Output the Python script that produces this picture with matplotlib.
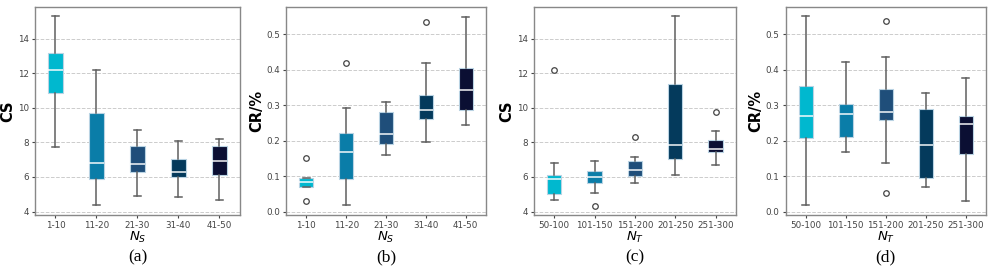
import matplotlib
matplotlib.use("Agg")
import matplotlib.pyplot as plt

# box colours, light to dark
colors = ["#00b8cf", "#0a7da8", "#1f4e7a", "#043a5c", "#0b0f33"]

ns_labels = ["1-10", "11-20", "21-30", "31-40", "41-50"]
nt_labels = ["50-100", "101-150", "151-200", "201-250", "251-300"]

# each box: whislo, q1, med, q3, whishi, fliers
cs_ns_whislo = [7.74, 4.37, 4.89, 4.85, 4.68]
cs_ns_q1 = [10.84, 5.87, 6.28, 5.99, 6.12]
cs_ns_med = [12.17, 6.82, 6.74, 6.28, 6.91]
cs_ns_q3 = [13.19, 9.72, 7.78, 7.03, 7.81]
cs_ns_whishi = [15.31, 12.21, 8.70, 8.10, 8.18]
cs_ns_fliers = [[], [], [], [], []]

cr_ns_whislo = [0.070, 0.019, 0.160, 0.197, 0.246]
cr_ns_q1 = [0.070, 0.093, 0.190, 0.262, 0.286]
cr_ns_med = [0.085, 0.168, 0.218, 0.286, 0.344]
cr_ns_q3 = [0.095, 0.221, 0.282, 0.328, 0.406]
cr_ns_whishi = [0.095, 0.292, 0.308, 0.419, 0.550]
cr_ns_fliers = [[0.151, 0.030], [0.420], [], [0.536], []]

cs_nt_whislo = [4.68, 5.06, 5.68, 6.14, 6.70]
cs_nt_q1 = [5.01, 5.66, 6.08, 7.03, 7.45]
cs_nt_med = [5.87, 5.99, 6.43, 7.87, 7.64]
cs_nt_q3 = [6.14, 6.37, 6.95, 11.40, 8.14]
cs_nt_whishi = [6.80, 6.95, 7.14, 15.31, 8.68]
cs_nt_fliers = [[12.21], [4.35], [8.34], [], [9.75]]

cr_nt_whislo = [0.019, 0.168, 0.138, 0.070, 0.031]
cr_nt_q1 = [0.207, 0.210, 0.258, 0.094, 0.163]
cr_nt_med = [0.270, 0.275, 0.281, 0.187, 0.247]
cr_nt_q3 = [0.355, 0.304, 0.346, 0.290, 0.270]
cr_nt_whishi = [0.553, 0.421, 0.436, 0.334, 0.377]
cr_nt_fliers = [[], [], [0.537, 0.053], [], []]


def make_stats(whislo, q1, med, q3, whishi, fliers):
    stats = []
    for i in range(len(med)):
        stats.append(dict(whislo=whislo[i], q1=q1[i], med=med[i], q3=q3[i],
                          whishi=whishi[i], fliers=fliers[i]))
    return stats


def draw_panel(ax, stats, labels, ylabel, xlabel, ylim, yticks, yfmt, tag):
    bp = ax.bxp(stats, widths=0.36, patch_artist=True, showfliers=True,
                whiskerprops=dict(color="#5f5f5f", linewidth=1.1),
                capprops=dict(color="#5f5f5f", linewidth=1.1),
                medianprops=dict(color="white", alpha=0.75, linewidth=1.4),
                flierprops=dict(marker="o", markersize=4, markerfacecolor="none",
                                markeredgecolor="#444444", markeredgewidth=0.9))
    for patch, c in zip(bp["boxes"], colors):
        patch.set_facecolor(c)
        patch.set_edgecolor("#b9d3e3")
        patch.set_linewidth(0.8)
    ax.set_xticks(range(1, len(labels) + 1))
    ax.set_xticklabels(labels)
    ax.set_xlim(0.5, len(labels) + 0.5)
    ax.set_ylim(*ylim)
    ax.set_yticks(yticks)
    ax.set_yticklabels([yfmt.format(v) for v in yticks])
    ax.yaxis.grid(True, linestyle="--", color="#cccccc", linewidth=0.7)
    ax.set_axisbelow(True)
    ax.tick_params(labelsize=6.3, colors="#444444", length=2.5, width=0.8, pad=2)
    for s in ax.spines.values():
        s.set_color("#888888")
        s.set_linewidth(1.0)
    ax.set_ylabel(ylabel, fontsize=10.5, fontweight="bold", labelpad=1.5)
    ax.set_xlabel(xlabel, fontsize=9.5, labelpad=0)
    ax.text(0.5, -0.205, tag, transform=ax.transAxes, ha="center", va="center",
            fontsize=12.5, family="Liberation Serif")


fig = plt.figure(figsize=(9.97, 2.71), dpi=100)
bottom = 0.2066
height = 0.7675
ax_a = fig.add_axes([0.0351, bottom, 0.2056, height])
ax_b = fig.add_axes([0.2872, bottom, 0.2000, height])
ax_c = fig.add_axes([0.5356, bottom, 0.2023, height])
ax_d = fig.add_axes([0.7881, bottom, 0.2006, height])

cs_ticks = [4, 6, 8, 10, 12, 14]
cr_ticks = [0.0, 0.1, 0.2, 0.3, 0.4, 0.5]

draw_panel(ax_a, make_stats(cs_ns_whislo, cs_ns_q1, cs_ns_med, cs_ns_q3, cs_ns_whishi, cs_ns_fliers),
           ns_labels, "CS", "$N_S$", (3.8, 15.83), cs_ticks, "{:d}", "(a)")
draw_panel(ax_b, make_stats(cr_ns_whislo, cr_ns_q1, cr_ns_med, cr_ns_q3, cr_ns_whishi, cr_ns_fliers),
           ns_labels, "CR/%", "$N_S$", (-0.009, 0.577), cr_ticks, "{:.1f}", "(b)")
draw_panel(ax_c, make_stats(cs_nt_whislo, cs_nt_q1, cs_nt_med, cs_nt_q3, cs_nt_whishi, cs_nt_fliers),
           nt_labels, "CS", "$N_T$", (3.8, 15.83), cs_ticks, "{:d}", "(c)")
draw_panel(ax_d, make_stats(cr_nt_whislo, cr_nt_q1, cr_nt_med, cr_nt_q3, cr_nt_whishi, cr_nt_fliers),
           nt_labels, "CR/%", "$N_T$", (-0.009, 0.577), cr_ticks, "{:.1f}", "(d)")

fig.savefig("out.png", dpi=100)
